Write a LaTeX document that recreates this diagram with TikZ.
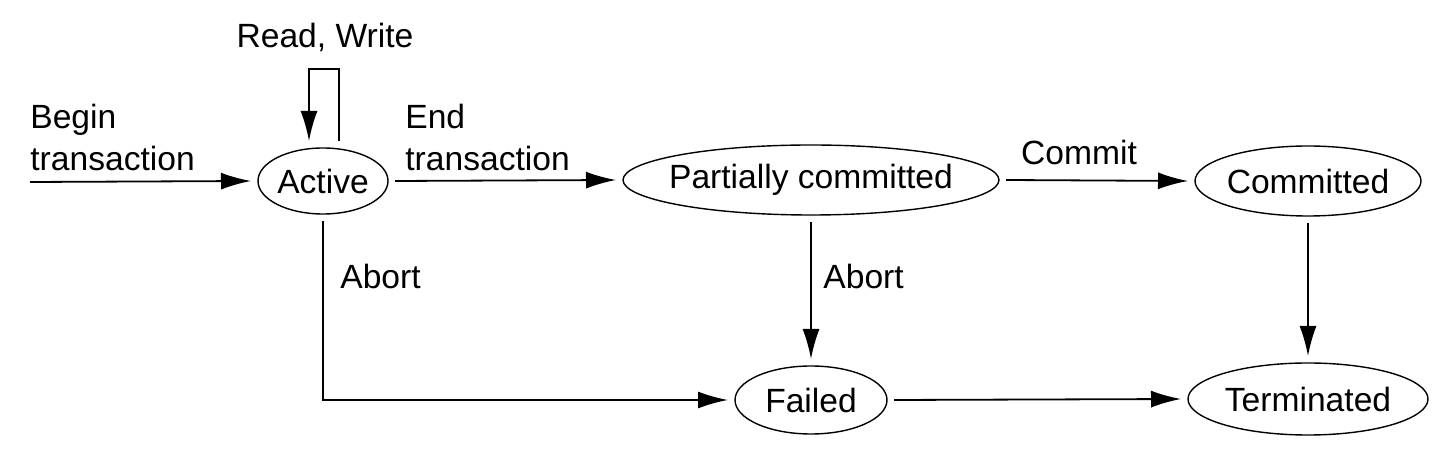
\documentclass[tikz,border=0pt]{standalone}
\usepackage{fontspec}
\setmainfont{Liberation Sans}
\usetikzlibrary{arrows.meta,shapes.geometric,positioning}
\begin{document}
\begin{tikzpicture}[x=0.5pt,y=-0.5pt,
  every node/.style={font=\fontsize{16.8}{21}\selectfont},
  state/.style={ellipse,draw,line width=0.7pt,inner xsep=-3pt,inner ysep=0pt,outer sep=3.5pt},
  arr/.style={line width=0.9pt,-{Latex[length=15pt,width=8.5pt]}},
  lbl/.style={inner sep=0pt,align=left}]
\useasboundingbox (0,0) rectangle (1446,458);
\node[state,minimum width=65pt,minimum height=33pt] (act) at (323,181) {Active};
\node[state,inner xsep=-6pt,minimum width=188pt,minimum height=35pt] (part) at (811,180) {Partially committed};
\node[state,minimum width=113pt,minimum height=35pt] (com) at (1308,181) {Committed};
\node[state,minimum width=76pt,minimum height=34pt] (fail) at (811,400) {Failed};
\node[state,minimum width=120pt,minimum height=36pt] (term) at (1308,399) {Terminated};
\coordinate (start) at (30,182);
\node[lbl,anchor=base] (rw) at (325,48) {Read, Write};
\node[lbl,anchor=west] (begin) at (30,137) {Begin\\transaction};
\node[lbl,anchor=west] (end) at (405,137) {End\\transaction};
\node[lbl,anchor=base] (commit) at (1079,165) {Commit};
\node[lbl,anchor=base west] (ab1) at (340,289) {Abort};
\node[lbl,anchor=base west] (ab2) at (823,289) {Abort};
\draw[arr] (start) -- (act.west);
\draw[arr] ([xshift=8pt]act.north) -- ++(0,36pt) -| ([xshift=-7pt]act.north);
\draw[arr] (act.east) -- (part.west);
\draw[arr] (part.east) -- (com.west);
\draw[arr] (act.south) |- (fail.west);
\draw[arr] (part.south) -- (fail.north);
\draw[arr] (com.south) -- (term.north);
\draw[arr] (fail.east) -- (term.west);
\end{tikzpicture}
\end{document}
